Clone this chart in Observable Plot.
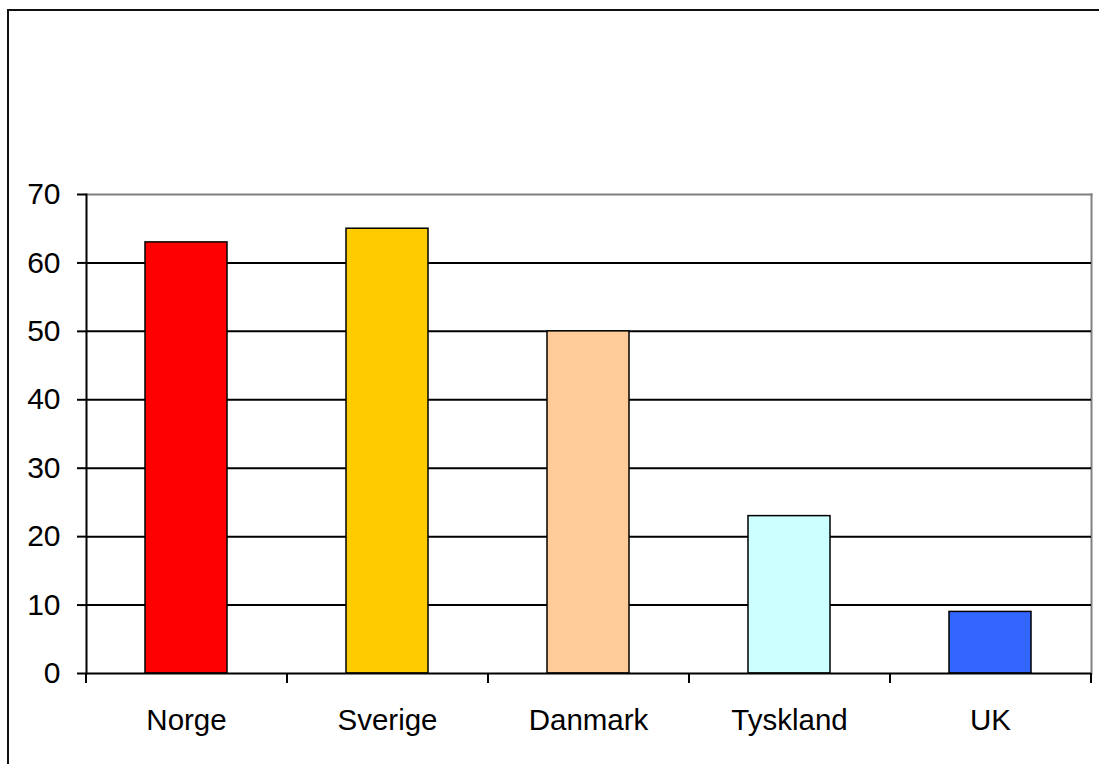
<!DOCTYPE html>
<html>
<head>
<meta charset="utf-8">
<script src="https://cdn.jsdelivr.net/npm/d3@7"></script>
<script src="https://cdn.jsdelivr.net/npm/@observablehq/plot@0.6"></script>
<style>
  html, body { margin: 0; padding: 0; background: #fff; overflow: hidden; width: 1099px; height: 764px; }
  #frame { position: absolute; left: 7px; top: 9px; width: 2000px; height: 2000px; border: 2px solid #111; box-sizing: border-box; }
  #chart { position: absolute; left: 0; top: 0; }
  svg { font-family: "Liberation Sans", Arial, sans-serif; }
</style>
</head>
<body>
<div id="frame"></div>
<div id="chart"></div>
<script>
const categories = ["Norge", "Sverige", "Danmark", "Tyskland", "UK"];
const values = [63, 65, 50, 23, 9];
const colors = ["#FF0000", "#FFCC00", "#FFCC99", "#CCFFFF", "#3366FF"];
const yTicks = [0, 10, 20, 30, 40, 50, 60, 70];
const gridValues = [10, 20, 30, 40, 50, 60];

const data = categories.map((c, i) => ({category: c, value: values[i], color: colors[i]}));

const W = 1099, H = 764;
const mL = 86, mR = 8, mT = 194, mB = 91;
const step = (W - mL - mR) / categories.length;

const chart = Plot.plot({
  width: W,
  height: H,
  marginLeft: mL,
  marginRight: mR,
  marginTop: mT,
  marginBottom: mB,
  style: {fontFamily: "Liberation Sans, Arial, sans-serif", fontSize: "29.5px", background: "transparent", overflow: "visible"},
  x: {domain: categories, paddingInner: 0.592, paddingOuter: 0.296, axis: null},
  y: {domain: [0, 70], axis: null},
  marks: [
    Plot.frame({anchor: "top", stroke: "#808080", strokeWidth: 2}),
    Plot.frame({anchor: "right", stroke: "#808080", strokeWidth: 2}),
    Plot.ruleY(gridValues, {stroke: "#000", strokeWidth: 2}),
    Plot.barY(data, {x: "category", y: "value", fill: "color", stroke: "#000", strokeWidth: 1.5}),
    Plot.ruleY([0], {stroke: "#000", strokeWidth: 2}),
    Plot.frame({anchor: "left", stroke: "#000", strokeWidth: 2}),
    Plot.axisY({ticks: yTicks, tickSize: 9, tickPadding: 17, fontSize: 30, stroke: "#000", strokeWidth: 2, fill: "#000", label: null}),
    Plot.axisX({tickSize: 0, tickPadding: 36, fontSize: 29.5, fill: "#000", label: null}),
    Plot.axisX({tickSize: 10, dx: -step / 2, tickFormat: () => "", stroke: "#000", strokeWidth: 2, label: null}),
    Plot.axisX({ticks: [categories[categories.length - 1]], tickSize: 10, dx: step / 2, tickFormat: () => "", stroke: "#000", strokeWidth: 2, label: null})
  ]
});
document.getElementById("chart").appendChild(chart);
</script>
</body>
</html>
